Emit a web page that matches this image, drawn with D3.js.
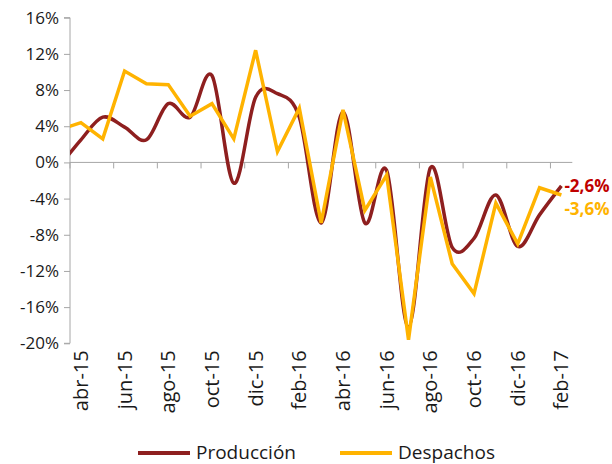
<!DOCTYPE html>
<html>
<head>
<meta charset="utf-8">
<script src="https://cdn.jsdelivr.net/npm/d3@7"></script>
<style>
  body { margin: 0; background: #fff; }
  text { font-family: "Open Sans", sans-serif; fill: #1a1a1a; }
</style>
</head>
<body>
<div id="chart"></div>
<script>
// months on the axis (mar-15 is only the clipped lead-in at the left edge)
const months = ["mar-15", "abr-15", "may-15", "jun-15", "jul-15", "ago-15", "sep-15", "oct-15", "nov-15", "dic-15",
  "ene-16", "feb-16", "mar-16", "abr-16", "may-16", "jun-16", "jul-16", "ago-16", "sep-16", "oct-16", "nov-16", "dic-16",
  "ene-17", "feb-17"];
const produccion = [-0.5, 2.5, 5.0, 3.9, 2.5, 6.5, 5.0, 9.6, -2.3, 7.2, 7.6, 5.0,
  -6.7, 5.6, -6.7, -0.9, -18.2, -0.6, -9.4, -8.4, -3.6, -9.3, -5.8, -2.6];
const despachos = [3.6, 4.4, 2.6, 10.1, 8.7, 8.6, 5.1, 6.5, 2.6, 12.4, 1.2, 6.0,
  -6.7, 5.8, -5.3, -1.4, -19.6, -1.6, -11.2, -14.5, -4.5, -9.0, -2.8, -3.6];
const yTicks = [-20, -16, -12, -8, -4, 0, 4, 8, 12, 16];
const tickMonths = ["abr-15", "jun-15", "ago-15", "oct-15", "dic-15", "feb-16", "abr-16", "jun-16", "ago-16", "oct-16", "dic-16", "feb-17"];

const width = 612, height = 464;
const plotLeft = 70, plotRight = 572.3, plotTop = 17.7, plotBottom = 343.3;
const step = (plotRight - plotLeft) / 23;

const red = "#8e1f1f", gold = "#ffb300";

let svg = d3.select("#chart")
  .append("svg")
  .attr("width", width)
  .attr("height", height);

// band scale; first band (mar-15) sits left of the axis
let x = d3.scaleBand()
  .domain(months)
  .range([plotLeft - step, plotRight])
  .padding(0);

let y = d3.scaleLinear()
  .domain([-20, 16])
  .range([plotBottom, plotTop]);

let cx = function(m) { return x(m) + x.bandwidth() / 2; };

svg.append("defs").append("clipPath")
  .attr("id", "plot")
  .append("rect")
  .attr("x", plotLeft)
  .attr("y", 0)
  .attr("width", plotRight - plotLeft + 20)
  .attr("height", height);

// y axis
let yAxis = svg.append("g")
  .attr("transform", `translate(${plotLeft},0)`)
  .call(d3.axisLeft(y).tickValues(yTicks).tickSize(6).tickPadding(5).tickFormat(function(d) { return d + "%"; }));
yAxis.select(".domain").attr("stroke", "#a6a6a6").attr("d", `M-6,${y(-20)}H0V${y(16)}H-6`);
yAxis.selectAll(".tick line").attr("stroke", "#a6a6a6");
yAxis.selectAll(".tick text").style("font-size", "17px").attr("fill", "#1a1a1a");

// x axis along zero
let xg = svg.append("g");
xg.append("line")
  .attr("x1", plotLeft).attr("x2", plotRight)
  .attr("y1", y(0)).attr("y2", y(0))
  .attr("stroke", "#a6a6a6");
xg.selectAll("line.tk")
  .data(tickMonths)
  .enter()
  .append("line")
  .attr("class", "tk")
  .attr("x1", function(d) { return x(d); })
  .attr("x2", function(d) { return x(d); })
  .attr("y1", y(0))
  .attr("y2", y(0) + 6)
  .attr("stroke", "#a6a6a6");

// x labels at the bottom, rotated
svg.selectAll("text.xl")
  .data(tickMonths)
  .enter()
  .append("text")
  .attr("class", "xl")
  .attr("transform", function(d) { return `translate(${cx(d) + 7},${plotBottom + 7}) rotate(-90)`; })
  .style("text-anchor", "end")
  .style("font-size", "20px")
  .text(function(d) { return d; });

let lines = svg.append("g").attr("clip-path", "url(#plot)");

let prodLine = d3.line()
  .x(function(d, i) { return cx(months[i]); })
  .y(function(d) { return y(d); })
  .curve(d3.curveCardinal.tension(0));

let despLine = d3.line()
  .x(function(d, i) { return cx(months[i]); })
  .y(function(d) { return y(d); });

lines.append("path")
  .attr("d", prodLine(produccion))
  .attr("fill", "none")
  .attr("stroke", red)
  .attr("stroke-width", 3.5);

lines.append("path")
  .attr("d", despLine(despachos))
  .attr("fill", "none")
  .attr("stroke", gold)
  .attr("stroke-width", 3.5)
  .attr("stroke-linejoin", "miter");

// end labels
let last = months[months.length - 1];
svg.append("text")
  .attr("x", cx(last) + 3)
  .attr("y", y(produccion[produccion.length - 1]) + 6)
  .style("font-size", "17px")
  .style("font-weight", "bold")
  .style("fill", "#c00000")
  .text("-2,6%");
svg.append("text")
  .attr("x", cx(last) + 3)
  .attr("y", y(despachos[despachos.length - 1]) + 20)
  .style("font-size", "17px")
  .style("font-weight", "bold")
  .style("fill", gold)
  .text("-3,6%");

// legend
let legend = [{name: "Producción", color: red, x: 138}, {name: "Despachos", color: gold, x: 340}];
let lg = svg.selectAll("g.lg")
  .data(legend)
  .enter()
  .append("g")
  .attr("class", "lg")
  .attr("transform", function(d) { return `translate(${d.x},453)`; });
lg.append("line")
  .attr("x1", 0).attr("x2", 52)
  .attr("stroke", function(d) { return d.color; })
  .attr("stroke-width", 4);
lg.append("text")
  .attr("x", 58)
  .attr("y", 6)
  .style("font-size", "19px")
  .text(function(d) { return d.name; });
</script>
</body>
</html>
